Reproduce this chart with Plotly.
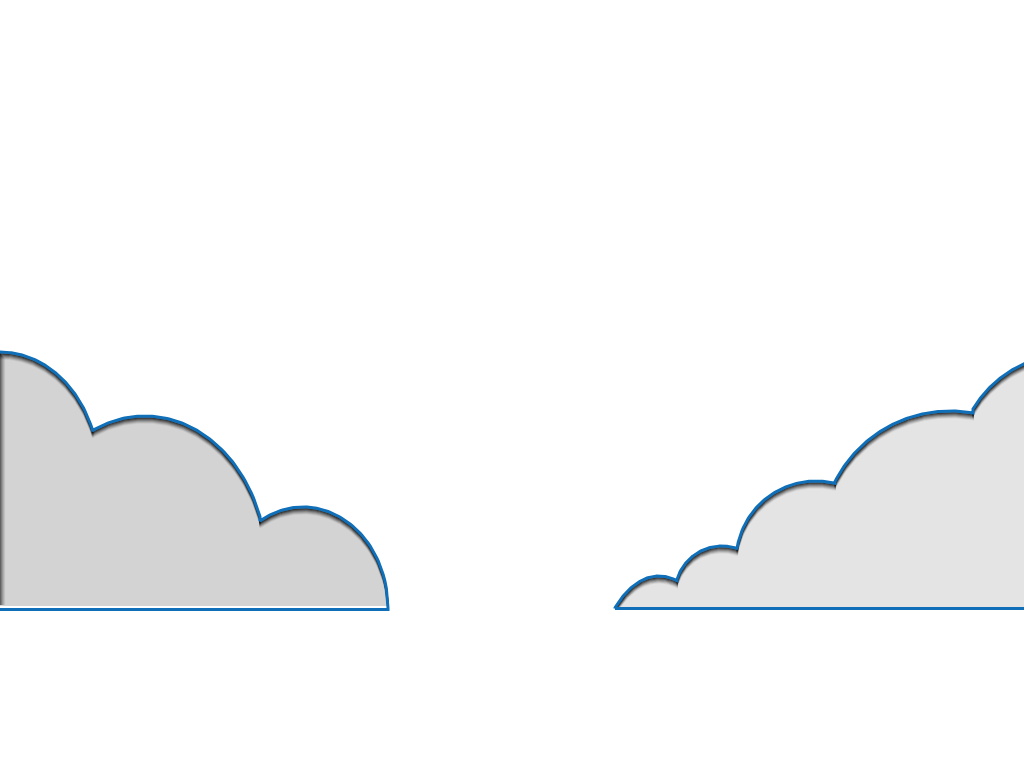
import numpy as np
import plotly.graph_objects as go

# The picture is laid out in pixel units: x to the right, y downwards.
W, H = 1024, 768

# Left cloud: every bump is an ellipse (centre x/y, radius x/y) and the
# part of it used runs from x_from to x_to
left_cx = [0, 145, 303]
left_cy = [473, 567, 608]
left_rx = [99, 122, 85]
left_ry = [121, 151, 101]
left_from = [-2, 93, 260]
left_to = [93, 260, 388]
left_base = 609.5
left_fill_base = 606

# Right cloud, same idea, climbing to the right edge
right_cx = [659, 722, 816, 950, 1070]
right_cy = [701, 593, 561, 540, 467]
right_rx = [66, 47, 80, 129, 113]
right_ry = [125, 47, 80, 129, 113]
right_from = [615, 677, 737, 835, 973]
right_to = [677, 738, 835, 973, 1030]
right_base = 608.5

outline_color = '#0f6fb8'
left_fill = '#d3d3d3'
right_fill = '#e4e4e4'


def bump_outline(cx, cy, rx, ry, x_from, x_to, n=80):
    xs, ys = [], []
    for c, yc, a, b, x0, x1 in zip(cx, cy, rx, ry, x_from, x_to):
        t = np.linspace(x0, x1, n)
        u = np.clip(1 - ((t - c) / a) ** 2, 0, 1)
        xs += t.tolist()
        ys += (yc - b * np.sqrt(u)).tolist()
    return np.array(xs), np.array(ys)


fig = go.Figure()

# --- left cloud ---
lx, ly = bump_outline(left_cx, left_cy, left_rx, left_ry, left_from, left_to)
x_end = left_to[-1]
x_start = left_from[0]

fig.add_trace(go.Scatter(
    x=[x_start] + lx.tolist() + [x_end, x_start],
    y=[left_fill_base] + ly.tolist() + [left_fill_base, left_fill_base],
    mode='lines', fill='toself', fillcolor=left_fill,
    line=dict(width=0, color=left_fill), hoverinfo='skip'
))

# soft inner shadow under the top edge and along the left edge
shadow_alpha = [0.55, 0.42, 0.3, 0.2, 0.12, 0.06]
for k, a in enumerate(shadow_alpha, start=1):
    fig.add_trace(go.Scatter(
        x=lx, y=np.minimum(ly + k + 0.5, left_fill_base - 1),
        mode='lines', line=dict(width=2, color=f'rgba(0,0,0,{a})'),
        hoverinfo='skip'
    ))
    fig.add_trace(go.Scatter(
        x=[x_start + k + 0.5] * 2, y=[ly[0] + k, left_fill_base - 1],
        mode='lines', line=dict(width=1.5, color=f'rgba(0,0,0,{a})'),
        hoverinfo='skip'
    ))

fig.add_trace(go.Scatter(
    x=[x_start] + lx.tolist() + [x_end, x_start],
    y=[left_base] + ly.tolist() + [left_base, left_base],
    mode='lines', line=dict(width=3, color=outline_color),
    hoverinfo='skip'
))

# --- right cloud ---
rx_, ry_ = bump_outline(right_cx, right_cy, right_rx, right_ry, right_from, right_to)
r_start = right_from[0]
r_end = right_to[-1]

fig.add_trace(go.Scatter(
    x=rx_.tolist() + [r_end, r_start, r_start],
    y=ry_.tolist() + [right_base, right_base, ry_[0]],
    mode='lines', fill='toself', fillcolor=right_fill,
    line=dict(width=0, color=right_fill), hoverinfo='skip'
))

for k, a in enumerate(shadow_alpha, start=1):
    fig.add_trace(go.Scatter(
        x=rx_, y=np.minimum(ry_ + k + 0.5, right_base - 1),
        mode='lines', line=dict(width=2, color=f'rgba(0,0,0,{a})'),
        hoverinfo='skip'
    ))

fig.add_trace(go.Scatter(
    x=[r_start] + rx_.tolist() + [r_end, r_start, r_start],
    y=[right_base] + ry_.tolist() + [right_base, right_base, right_base],
    mode='lines', line=dict(width=3, color=outline_color),
    hoverinfo='skip'
))

fig.update_layout(
    width=W, height=H,
    margin=dict(l=0, r=0, t=0, b=0),
    paper_bgcolor='white', plot_bgcolor='white',
    showlegend=False, hovermode=False,
    xaxis=dict(range=[0, W], visible=False, fixedrange=True),
    yaxis=dict(range=[H, 0], visible=False, fixedrange=True),
)

# page margin off so the figure sits flush in the window
fig.write_html('out.html', config={'displayModeBar': False},
               post_script="document.body.style.margin='0';")
